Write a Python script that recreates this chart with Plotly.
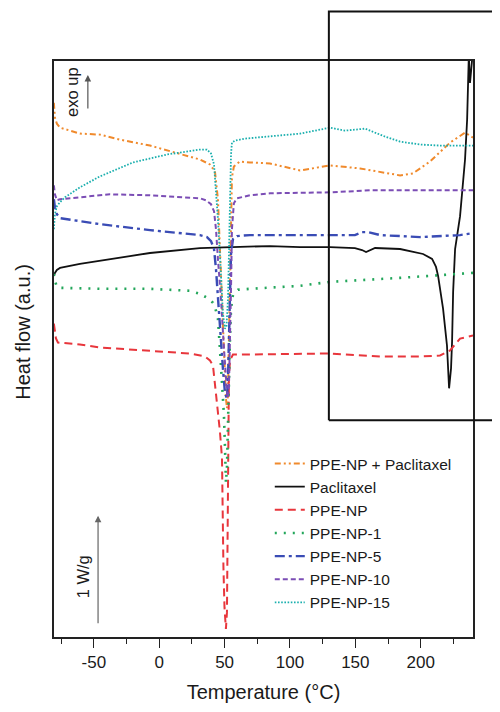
import plotly.graph_objects as go

# ---------------- data ----------------
# Temperature (°C) and heat flow (arbitrary, exo up) for each sample

T_ppe_ptx = [-80.6, -79.8, -78.3, -75.9, -60.7, -45.4, -30.1, -7.1, 12.0, 31.1, 38.8, 42.6,
             44.9, 46.4, 48.0, 49.5, 51.0, 51.8, 52.6, 53.3, 54.1, 54.9, 55.6, 57.1, 61.7,
             69.4, 84.7, 107.7, 130.6, 153.6, 184.2, 194.1, 207.1, 222.5, 233.9, 240.0]
H_ppe_ptx = [5.37, 5.22, 5.16, 5.12, 5.06, 5.05, 5.00, 4.94, 4.87, 4.80, 4.75, 4.68,
             4.40, 3.90, 3.30, 2.75, 2.40, 2.30, 2.45, 3.00, 3.70, 4.30, 4.62, 4.73, 4.78,
             4.77, 4.76, 4.69, 4.74, 4.71, 4.64, 4.66, 4.78, 4.97, 5.07, 5.02]

T_ptx = [-80.6, -79.8, -78.3, -75.9, -60.7, -45.4, -7.1, 31.1, 69.4, 84.7, 107.7, 130.6,
         149.7, 155.1, 158.2, 161.3, 165.1, 184.2, 201.8, 208.7, 211.7, 213.3, 217.1, 220.1,
         221.7, 223.2, 224.0, 224.8, 226.3, 230.1, 232.4, 233.9, 235.5, 236.2, 236.8, 237.7,
         239.3, 240.0]
H_ptx = [3.63, 3.66, 3.69, 3.71, 3.75, 3.78, 3.86, 3.91, 3.92, 3.93, 3.92, 3.92,
         3.91, 3.89, 3.87, 3.89, 3.91, 3.90, 3.85, 3.80, 3.72, 3.63, 3.30, 2.93,
         2.50, 2.70, 2.97, 3.47, 3.90, 4.23, 4.60, 4.80, 5.20, 5.60, 5.85, 5.57,
         5.85, 5.90]

T_np = [-80.6, -79.8, -79.0, -77.5, -60.7, -45.4, -7.1, 23.5, 35.0, 38.8, 41.1, 42.6,
        44.9, 46.4, 48.0, 48.4, 49.1, 49.9, 51.0, 51.8, 52.2, 52.6, 52.9, 53.3, 54.1,
        56.4, 69.4, 107.7, 130.6, 168.9, 199.5, 214.8, 222.5, 230.1, 240.0]
H_np = [3.15, 3.07, 3.00, 2.96, 2.94, 2.91, 2.88, 2.85, 2.82, 2.78, 2.73, 2.55,
        2.30, 2.07, 1.80, 1.20, 0.70, 0.30, 0.08, 0.25, 0.80, 1.60, 2.20, 2.60, 2.78,
        2.84, 2.84, 2.85, 2.85, 2.82, 2.82, 2.83, 2.88, 3.00, 3.03]

T_np1 = [-80.6, -79.8, -78.3, -75.9, -45.4, -7.1, 23.5, 31.1, 36.5, 41.1, 43.4, 44.9,
         46.4, 48.0, 49.5, 50.3, 51.0, 51.8, 52.6, 53.3, 54.1, 54.9, 56.4, 60.2, 69.4,
         107.7, 130.6, 184.2, 240.0]
H_np1 = [3.65, 3.58, 3.52, 3.51, 3.50, 3.50, 3.48, 3.45, 3.41, 3.36, 3.28, 3.20,
         2.90, 2.57, 2.23, 1.90, 1.55, 1.70, 2.23, 2.60, 3.00, 3.30, 3.44, 3.49, 3.50,
         3.53, 3.57, 3.61, 3.66]

T_np5 = [-80.6, -79.8, -78.3, -75.9, -45.4, -7.1, 31.1, 36.5, 39.6, 41.9, 43.4, 44.9,
         47.2, 48.7, 50.3, 51.8, 52.6, 53.3, 54.1, 54.9, 56.4, 59.4, 69.4, 130.6, 149.7,
         155.1, 159.7, 168.9, 199.5, 230.1, 240.0]
H_np5 = [4.40, 4.32, 4.25, 4.21, 4.15, 4.09, 4.04, 4.02, 3.98, 3.90, 3.70, 3.40,
         3.00, 2.70, 2.45, 2.40, 2.60, 3.00, 3.50, 3.85, 4.00, 4.03, 4.04, 4.04, 4.04,
         4.07, 4.07, 4.04, 4.02, 4.04, 4.06]

T_np10 = [-80.6, -79.8, -78.3, -75.9, -60.7, -37.7, -7.1, 31.1, 35.7, 39.6, 41.9, 43.4,
          44.9, 47.2, 49.5, 51.0, 52.2, 53.3, 54.1, 54.9, 55.6, 57.1, 59.4, 69.4, 84.7,
          130.6, 161.3, 240.0]
H_np10 = [4.54, 4.45, 4.39, 4.40, 4.42, 4.45, 4.44, 4.41, 4.39, 4.35, 4.28, 4.10,
          3.80, 3.40, 2.90, 2.55, 2.40, 2.50, 2.90, 3.50, 4.10, 4.36, 4.41, 4.44, 4.46,
          4.47, 4.49, 4.49]

T_np15 = [-80.6, -79.8, -78.3, -75.9, -72.1, -60.7, -45.4, -20.1, 5.9, 31.1, 36.5, 39.6,
          41.9, 43.4, 44.9, 46.4, 47.6, 48.7, 50.3, 51.4, 52.6, 53.3, 53.7, 54.1, 54.9,
          55.6, 57.9, 65.6, 107.7, 130.6, 142.1, 157.4, 172.8, 184.2, 199.5, 214.8, 240.0]
H_np15 = [4.10, 4.25, 4.33, 4.37, 4.42, 4.52, 4.63, 4.77, 4.85, 4.90, 4.90, 4.86,
          4.75, 4.50, 4.20, 3.85, 3.50, 3.25, 3.10, 3.12, 3.40, 3.80, 4.20, 4.55, 4.85,
          4.97, 4.99, 5.01, 5.06, 5.12, 5.09, 5.11, 5.03, 4.98, 4.95, 4.94, 4.94]

series = [
    ("PPE-NP + Paclitaxel", T_ppe_ptx, H_ppe_ptx, "#F08A2C", "6px,3px,2px,3px,2px,3px", 2.0),
    ("Paclitaxel", T_ptx, H_ptx, "#111111", "solid", 1.8),
    ("PPE-NP", T_np, H_np, "#E8363C", "8px,5px", 2.0),
    ("PPE-NP-1", T_np1, H_np1, "#22A65A", "2px,7px", 2.6),
    ("PPE-NP-5", T_np5, H_np5, "#3A4CB5", "10px,4px,3px,4px", 2.4),
    ("PPE-NP-10", T_np10, H_np10, "#7B4DB5", "5px,3px", 2.0),
    ("PPE-NP-15", T_np15, H_np15, "#1AAFAE", "1.6px,1.6px", 1.8),
]

x_range = [-80.5, 240]
y_range = [0, 5.79]
x_ticks = [-50, 0, 50, 100, 150, 200]
x_tick_text = ["-50", "0", "50", "100", "150", "200"]

FONT = "Liberation Sans, Arial, sans-serif"

fig = go.Figure()
for name, xs, ys, color, dash, w in series:
    fig.add_trace(go.Scatter(x=xs, y=ys, mode="lines", name=name,
                             line=dict(color=color, dash=dash, width=w)))

fig.update_layout(
    width=492, height=704,
    margin=dict(l=46, r=27, t=53, b=72),
    paper_bgcolor="white", plot_bgcolor="white",
    font=dict(family=FONT, color="#1a1a1a", size=17),
    showlegend=True,
    legend=dict(x=0.515, y=0.33, xanchor="left", yanchor="top",
                bgcolor="rgba(0,0,0,0)", font=dict(size=15.5, family=FONT),
                tracegroupgap=0, itemwidth=30),
)
fig.update_xaxes(range=x_range, tickvals=x_ticks, ticktext=x_tick_text, ticks="outside",
                 ticklen=9, tickwidth=1.3, tickcolor="#222", showline=True,
                 linecolor="#222", linewidth=1.5, mirror=True, showgrid=False,
                 zeroline=False, tickfont=dict(size=17),
                 minor=dict(dtick=25, tick0=-75, ticks="outside", ticklen=5,
                            tickwidth=1.3, tickcolor="#222", showgrid=False),
                 title=dict(text="Temperature (°C)", font=dict(size=20), standoff=14))
fig.update_yaxes(range=y_range, showticklabels=False, ticks="", showline=True,
                 linecolor="#222", linewidth=1.5, mirror=True, showgrid=False,
                 zeroline=False)

# y-axis title placed as in the reference (slightly above centre)
fig.add_annotation(xref="paper", yref="paper", x=-0.074, y=0.530, xanchor="center",
                   yanchor="middle", text="Heat flow (a.u.)", showarrow=False,
                   textangle=-90, font=dict(size=20))

# inset frame: left, top and bottom edges; it runs off the right side of the figure
fig.add_shape(type="path", xref="paper", yref="paper",
              path="M 0.656,0.3765 L 0.656,1.086 L 1.3,1.086 M 0.656,0.3765 L 1.3,0.3765",
              line=dict(color="#111", width=2), layer="above")

# exo up arrow and label
fig.add_annotation(x=-54.6, y=5.65, xref="x", yref="y", ax=0, ay=35, axref="pixel",
                   ayref="pixel", text="", showarrow=True, arrowhead=2, arrowsize=1.1,
                   arrowwidth=1.2, arrowcolor="#555")
fig.add_annotation(x=-66.7, y=5.48, xref="x", yref="y", text="exo up", showarrow=False,
                   textangle=-90, font=dict(size=16.5))
# 1 W/g scale arrow
fig.add_annotation(x=-46.8, y=1.22, xref="x", yref="y", ax=0, ay=109, axref="pixel",
                   ayref="pixel", text="", showarrow=True, arrowhead=2, arrowsize=1.1,
                   arrowwidth=1.2, arrowcolor="#666")
fig.add_annotation(x=-58.3, y=0.60, xref="x", yref="y", text="1 W/g", showarrow=False,
                   textangle=-90, font=dict(size=16.5))

fig.write_html("out.html")
